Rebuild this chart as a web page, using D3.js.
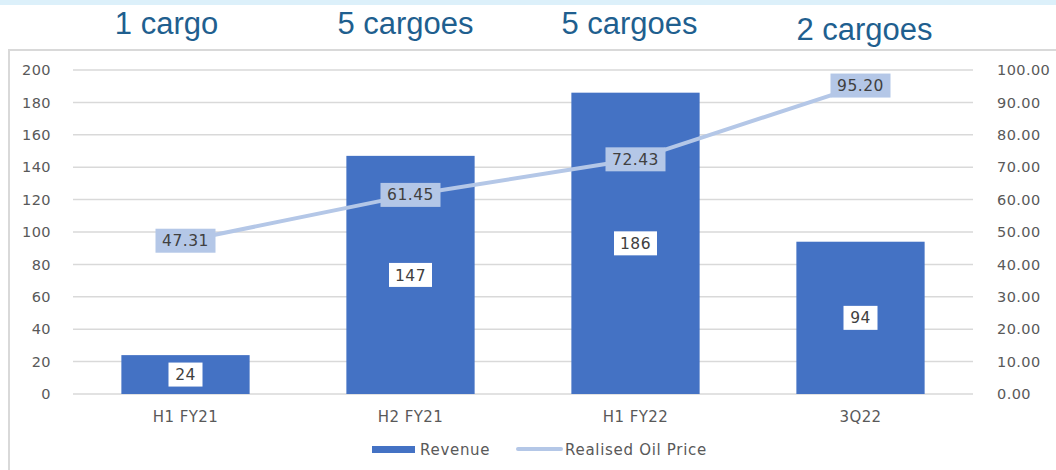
<!DOCTYPE html>
<html lang="en">
<head>
<meta charset="UTF-8">
<title>Revenue and Realised Oil Price</title>
<script src="https://d3js.org/d3.v7.min.js"></script>
<style>
  body { margin: 0; background: #fff; font-family: "DejaVu Sans", "Noto Sans", sans-serif; }
  .axis text { font-size: 14.5px; fill: #595959; font-family: "DejaVu Sans", sans-serif; letter-spacing: 0.4px; }
  .axis path, .axis line { display: none; }
</style>
</head>
<body>
<svg id="chart" width="1056" height="470"></svg>
<script>
const categories = ["H1 FY21", "H2 FY21", "H1 FY22", "3Q22"];
const cargoes = ["1 cargo", "5 cargoes", "5 cargoes", "2 cargoes"];
const revenue = [24, 147, 186, 94];
const oilPrice = [47.31, 61.45, 72.43, 95.20];
const leftTicks = [0, 20, 40, 60, 80, 100, 120, 140, 160, 180, 200];
const rightTicks = [0, 10, 20, 30, 40, 50, 60, 70, 80, 90, 100];

const width = 1056, height = 470;
const margin = { top: 70, right: 83, bottom: 76, left: 73 };

const svg = d3.select("#chart");

// top strip + frame
svg.append("rect").attr("x", 0).attr("y", 0).attr("width", width).attr("height", 5).attr("fill", "#dcf0fa");
svg.append("path")
  .attr("d", `M9,${height} V50 H${width}`)
  .attr("fill", "none").attr("stroke", "#d9d9d9").attr("stroke-width", 2);

const x = d3.scaleBand()
  .domain(categories)
  .range([margin.left, width - margin.right])
  .paddingInner(0.43).paddingOuter(0.215);

const y = d3.scaleLinear().domain([0, 200]).range([height - margin.bottom, margin.top]);
const y2 = d3.scaleLinear().domain([0, 100]).range([height - margin.bottom, margin.top]);

// gridlines
svg.append("g").selectAll("line").data(leftTicks).join("line")
  .attr("x1", margin.left).attr("x2", width - margin.right)
  .attr("y1", d => y(d)).attr("y2", d => y(d))
  .attr("stroke", "#d9d9d9").attr("stroke-width", 1.5);

// axes
svg.append("g").attr("class", "axis")
  .attr("transform", `translate(${margin.left - 19},0)`)
  .call(d3.axisLeft(y).tickValues(leftTicks).tickSize(0));

svg.append("g").attr("class", "axis")
  .attr("transform", `translate(${width - margin.right + 21},0)`)
  .call(d3.axisRight(y2).tickValues(rightTicks).tickSize(0).tickFormat(d3.format(".2f")));

svg.append("g").attr("class", "axis")
  .attr("transform", `translate(0,${height - margin.bottom + 10})`)
  .call(d3.axisBottom(x).tickSize(0))
  .selectAll("text").attr("dy", "1em").style("font-size", "15px");

// bars
svg.append("g").selectAll("rect").data(revenue).join("rect")
  .attr("x", (d, i) => x(categories[i]))
  .attr("width", x.bandwidth())
  .attr("y", d => y(d))
  .attr("height", d => y(0) - y(d))
  .attr("fill", "#4472c4");

// bar labels
const barLbl = svg.append("g").selectAll("g").data(revenue).join("g")
  .attr("transform", (d, i) => `translate(${x(categories[i]) + x.bandwidth() / 2},${(y(d) + y(0)) / 2})`);
barLbl.append("rect")
  .attr("x", d => -(String(d).length * 9 + 16) / 2).attr("y", -12)
  .attr("width", d => String(d).length * 9 + 16).attr("height", 24)
  .attr("fill", "#fff");
barLbl.append("text")
  .attr("text-anchor", "middle").attr("dy", "0.36em")
  .attr("font-size", 15.5).attr("letter-spacing", 0.5).attr("fill", "#404040")
  .text(d => d);

// line
const line = d3.line()
  .x((d, i) => x(categories[i]) + x.bandwidth() / 2)
  .y(d => y2(d));
svg.append("path").datum(oilPrice)
  .attr("d", line)
  .attr("fill", "none").attr("stroke", "#b4c7e7").attr("stroke-width", 4)
  .attr("stroke-linecap", "round");

const lineLbl = svg.append("g").selectAll("g").data(oilPrice).join("g")
  .attr("transform", (d, i) => `translate(${x(categories[i]) + x.bandwidth() / 2},${y2(d)})`);
lineLbl.append("rect")
  .attr("x", -30).attr("y", -12).attr("width", 60).attr("height", 24)
  .attr("fill", "#b4c7e7");
lineLbl.append("text")
  .attr("text-anchor", "middle").attr("dy", "0.36em")
  .attr("font-size", 15.5).attr("letter-spacing", 0.5).attr("fill", "#404040")
  .text(d => d3.format(".2f")(d));

// cargo headings
svg.append("g").selectAll("text").data(cargoes).join("text")
  .attr("x", (d, i) => x(categories[i]) + x.bandwidth() / 2 + [-19, -5, -6, 4][i])
  .attr("y", (d, i) => i === 3 ? 40 : 34)
  .attr("text-anchor", "middle")
  .attr("font-family", "'Liberation Sans', Arial, sans-serif")
  .attr("font-size", 31)
  .attr("fill", "#1f5f8f")
  .text(d => d);

// legend
const leg = svg.append("g").attr("font-size", 15).attr("letter-spacing", 0.7).attr("fill", "#595959");
leg.append("rect").attr("x", 372).attr("y", 446).attr("width", 43).attr("height", 7).attr("fill", "#4472c4");
leg.append("text").attr("x", 420).attr("y", 455).text("Revenue");
leg.append("line").attr("x1", 518).attr("x2", 561).attr("y1", 449).attr("y2", 449)
  .attr("stroke", "#b4c7e7").attr("stroke-width", 4).attr("stroke-linecap", "round");
leg.append("text").attr("x", 565).attr("y", 455).text("Realised Oil Price");
</script>
</body>
</html>
